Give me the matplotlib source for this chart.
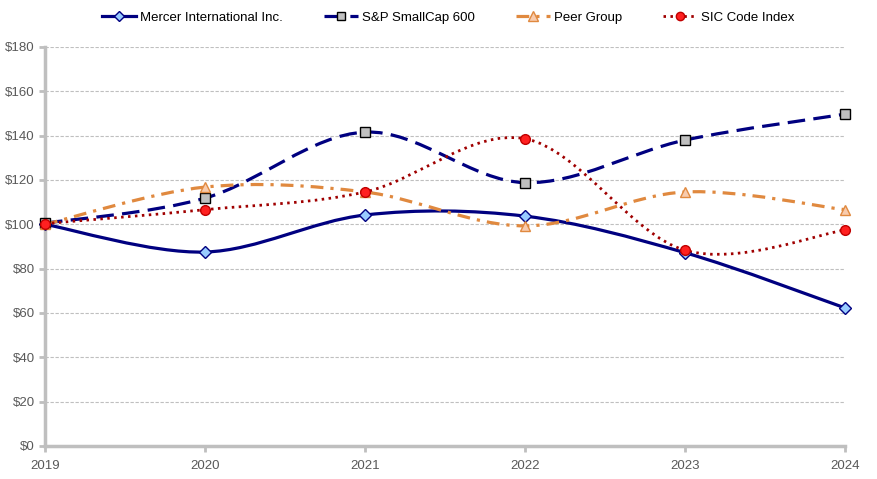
import numpy as np
import matplotlib.pyplot as plt
from matplotlib.path import Path
from matplotlib.patches import PathPatch
from matplotlib.lines import Line2D

plt.rcParams['font.family'] = ['Liberation Sans', 'DejaVu Sans']

years = [2019, 2020, 2021, 2022, 2023, 2024]
mercer = [100, 87.5, 104.2, 103.7, 87.2, 62.3]
sp600 = [100.5, 111.8, 141.6, 118.8, 138.0, 149.7]
peer = [100, 116.8, 114.6, 99.3, 114.6, 106.6]
sic = [100.3, 106.6, 114.6, 138.6, 88.3, 97.4]

labels = ['Mercer International Inc.', 'S&P SmallCap 600', 'Peer Group', 'SIC Code Index']


def smooth_path(x, y):
    # excel style smoothed line: cubic bezier through points
    pts = np.column_stack([x, y]).astype(float)
    n = len(pts)
    verts = [pts[0]]
    codes = [Path.MOVETO]
    for i in range(n - 1):
        p0 = pts[max(i - 1, 0)]
        p1 = pts[i]
        p2 = pts[i + 1]
        p3 = pts[min(i + 2, n - 1)]
        c1 = p1 + (p2 - p0) / 6
        c2 = p2 - (p3 - p1) / 6
        verts += [c1, c2, p2]
        codes += [Path.CURVE4] * 3
    return Path(verts, codes)


fig = plt.figure(figsize=(8.77, 4.79), dpi=100)
ax = fig.add_axes([0.0513, 0.0689, 0.9122, 0.833])

styles = [
    dict(color='#000080', lw=2.3, ls='-', marker='D', mfc='#99CCFF', mec='#000080', ms=6),
    dict(color='#000080', lw=2.3, ls=(0, (5.5, 2.6)), marker='s', mfc='#C0C0C0', mec='#000000', ms=7),
    dict(color='#E0893F', lw=2.3, ls=(0, (4, 2.2, 1, 2.2)), marker='^', mfc='#F8CBAD', mec='#E0893F', ms=7.5),
    dict(color='#A00000', lw=2.0, ls=(0, (0.9, 1.6)), marker='o', mfc='#FF2020', mec='#C00000', ms=7),
]

handles = []
for vals, st, lab in zip([mercer, sp600, peer, sic], styles, labels):
    patch = PathPatch(smooth_path(years, vals), fill=False, edgecolor=st['color'],
                      lw=st['lw'], ls=st['ls'], capstyle='butt', zorder=2)
    ax.add_patch(patch)
    ax.plot(years, vals, ls='none', marker=st['marker'], mfc=st['mfc'],
            mec=st['mec'], ms=st['ms'], mew=1, zorder=3, clip_on=False)
    handles.append(Line2D([], [], color=st['color'], lw=st['lw'], ls=st['ls'],
                          marker=st['marker'], mfc=st['mfc'], mec=st['mec'],
                          ms=st['ms'] - 1, mew=1))

ax.set_xlim(2019, 2024)
ax.set_ylim(0, 180)
ax.set_yticks(range(0, 181, 20))
ax.set_yticklabels([f'${v}' for v in range(0, 181, 20)])
ax.set_xticks(years)
ax.grid(axis='y', color='#BFBFBF', ls=(0, (3, 1.5)), lw=0.8)
ax.set_axisbelow(True)
for s in ['top', 'right']:
    ax.spines[s].set_visible(False)
for s in ['left', 'bottom']:
    ax.spines[s].set_color('#BFBFBF')
    ax.spines[s].set_linewidth(2.5)
ax.tick_params(colors='#BFBFBF', labelcolor='#595959', labelsize=9.5, length=4, width=2)
ax.tick_params(axis='x', pad=6)

fig.legend(handles, labels, loc='upper center', ncol=4, frameon=False,
           bbox_to_anchor=(0.511, 1.0), fontsize=9.5, handlelength=2.6,
           columnspacing=3.1, handletextpad=0.3)

fig.savefig('out.png', dpi=100)
